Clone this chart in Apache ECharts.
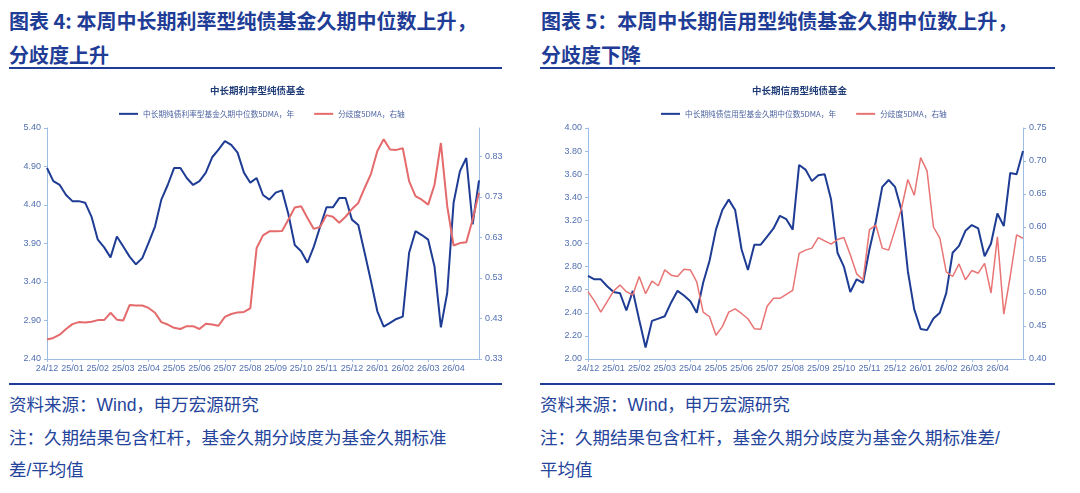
<!DOCTYPE html>
<html>
<head>
<meta charset="utf-8">
<script src="https://cdn.jsdelivr.net/npm/echarts@6/dist/echarts.min.js"></script>
<style>
body { margin: 0; width: 1080px; height: 493px; background: #fff; position: relative; overflow: hidden; font-family: "Noto Sans CJK SC", sans-serif; }
.head { position: absolute; top: 4px; font-size: 20px; font-weight: bold; line-height: 34px; color: #1f3d96; white-space: nowrap; }
.rule { position: absolute; height: 2px; background: #1f3d96; }
.foot { position: absolute; top: 389px; font-size: 17.5px; line-height: 32.5px; color: #24449b; white-space: nowrap;
  font-family: "Liberation Sans", "Noto Sans CJK SC", sans-serif; }
.chart { position: absolute; top: 70px; width: 540px; height: 313px; }
</style>
</head>
<body>
<div class="head" style="left:9px">图表 4: 本周中长期利率型纯债基金久期中位数上升，<br>分歧度上升</div>
<div class="head" style="left:541px">图表 5：本周中长期信用型纯债基金久期中位数上升，<br>分歧度下降</div>
<div class="rule" style="left:9px;width:493px;top:67px"></div>
<div class="rule" style="left:540px;width:515px;top:67px"></div>
<div id="c1" class="chart" style="left:0"></div>
<div id="c2" class="chart" style="left:540px"></div>
<div class="rule" style="left:9px;width:493px;top:383px"></div>
<div class="rule" style="left:540px;width:515px;top:383px"></div>
<div class="foot" style="left:9px">资料来源：Wind，申万宏源研究<br>注：久期结果包含杠杆，基金久期分歧度为基金久期标准<br>差/平均值</div>
<div class="foot" style="left:540px">资料来源：Wind，申万宏源研究<br>注：久期结果包含杠杆，基金久期分歧度为基金久期标准差/<br>平均值</div>
<script>
// sample dates, 4 per month
const dates = [
  '2024-12-01','2024-12-08','2024-12-16','2024-12-23',
  '2025-01-01','2025-01-08','2025-01-16','2025-01-23',
  '2025-02-01','2025-02-08','2025-02-16','2025-02-23',
  '2025-03-01','2025-03-08','2025-03-16','2025-03-23',
  '2025-04-01','2025-04-08','2025-04-16','2025-04-23',
  '2025-05-01','2025-05-08','2025-05-16','2025-05-23',
  '2025-06-01','2025-06-08','2025-06-16','2025-06-23',
  '2025-07-01','2025-07-08','2025-07-16','2025-07-23',
  '2025-08-01','2025-08-08','2025-08-16','2025-08-23',
  '2025-09-01','2025-09-08','2025-09-16','2025-09-23',
  '2025-10-01','2025-10-08','2025-10-16','2025-10-23',
  '2025-11-01','2025-11-08','2025-11-16','2025-11-23',
  '2025-12-01','2025-12-08','2025-12-16','2025-12-23',
  '2026-01-01','2026-01-08','2026-01-16','2026-01-23',
  '2026-02-01','2026-02-08','2026-02-16','2026-02-23',
  '2026-03-01','2026-03-08','2026-03-16','2026-03-23',
  '2026-04-01','2026-04-08','2026-04-16','2026-04-23','2026-04-30'
];

// 中长期利率型
const rateDur = [4.88,4.71,4.66,4.53, 4.45,4.45,4.43,4.25, 3.95,3.85,3.72,3.99, 3.86,3.73,3.63,3.71,
  3.91,4.12,4.47,4.66, 4.88,4.88,4.75,4.66, 4.71,4.82,5.02,5.12, 5.23,5.18,5.08,4.82,
  4.69,4.75,4.53,4.47, 4.56,4.59,4.28,3.88, 3.80,3.65,3.86,4.12, 4.37,4.37,4.49,4.49,
  4.21,4.14,3.78,3.41, 3.02,2.82,2.87,2.92, 2.95,3.78,4.06,4.01, 3.95,3.60,2.81,3.26,
  4.43,4.84,5.01,4.15,4.72];
const rateDisp = [0.378,0.382,0.390,0.404, 0.416,0.421,0.420,0.422, 0.426,0.426,0.444,0.427, 0.425,0.463,0.462,0.462,
  0.456,0.444,0.421,0.415, 0.407,0.404,0.411,0.411, 0.404,0.417,0.415,0.412, 0.434,0.441,0.445,0.446,
  0.455,0.604,0.635,0.645, 0.645,0.646,0.674,0.704, 0.707,0.678,0.651,0.656, 0.685,0.681,0.666,0.681,
  0.700,0.715,0.752,0.787, 0.843,0.872,0.847,0.846, 0.850,0.769,0.732,0.723, 0.711,0.760,0.863,0.707,
  0.610,0.616,0.618,0.674,0.740];

// 中长期信用型
const creditDur = [2.72,2.69,2.69,2.63, 2.58,2.57,2.42,2.59, 2.34,2.10,2.33,2.35, 2.37,2.49,2.59,2.55,
  2.50,2.40,2.66,2.85, 3.12,3.29,3.38,3.29, 2.95,2.77,2.99,2.99, 3.06,3.13,3.24,3.21,
  3.12,3.68,3.64,3.54, 3.59,3.60,3.38,2.92, 2.80,2.58,2.69,2.66, 2.95,3.19,3.49,3.55,
  3.49,3.29,2.76,2.43, 2.26,2.25,2.35,2.40, 2.57,2.92,2.98,3.11, 3.16,3.13,2.89,3.00,
  3.26,3.15,3.61,3.60,3.80];
const creditDisp = [0.502,0.488,0.471,0.487, 0.503,0.512,0.502,0.497, 0.525,0.499,0.518,0.511, 0.535,0.527,0.525,0.536,
  0.535,0.517,0.471,0.464, 0.436,0.449,0.471,0.476, 0.469,0.461,0.446,0.445, 0.480,0.492,0.492,0.498,
  0.504,0.560,0.565,0.568, 0.584,0.579,0.574,0.581, 0.584,0.558,0.529,0.520, 0.596,0.603,0.568,0.565,
  0.596,0.628,0.672,0.648, 0.705,0.685,0.600,0.583, 0.532,0.525,0.544,0.520, 0.534,0.530,0.545,0.500,
  0.585,0.468,0.525,0.588,0.583];

const axisColor = '#9cbde4';
const labelColor = '#5270b0';
const numFont = '"Liberation Sans", Arial, sans-serif';
const isMonthStart = (idx, val) => val.slice(8) === '01';

function makeChart(id, o) {
  const chart = echarts.init(document.getElementById(id));
  const yAx = (ax) => ({
    type: 'value', position: ax.pos, min: ax.min, max: ax.max, interval: ax.step,
    axisLine: { show: true, lineStyle: { color: axisColor } },
    axisTick: { show: true, length: 3, lineStyle: { color: axisColor } },
    splitLine: { show: false },
    axisLabel: { formatter: v => v.toFixed(2), fontSize: 9, color: labelColor, fontFamily: numFont,
      margin: 6, showMaxLabel: ax.showMax }
  });
  chart.setOption({
    animation: false,
    title: { text: o.title, left: o.titleLeft, top: 11,
      textStyle: { fontSize: 9.5, fontWeight: 'bold', color: '#203c78', fontFamily: 'Noto Sans CJK SC' } },
    legend: { left: o.legendLeft, top: 35, icon: 'rect', itemWidth: 19, itemHeight: 2, itemGap: 20,
      textStyle: { fontSize: 7.7, color: '#4d64a0', fontFamily: 'Noto Sans CJK SC' } },
    grid: { left: o.gridLeft, right: o.gridRight, top: 58, bottom: 24 },
    xAxis: {
      type: 'category', data: dates, boundaryGap: false,
      axisLine: { lineStyle: { color: axisColor } },
      axisTick: { interval: isMonthStart, length: 3, lineStyle: { color: axisColor } },
      axisLabel: { interval: isMonthStart, formatter: v => v.slice(2, 4) + '/' + v.slice(5, 7),
        fontSize: 9, color: labelColor, fontFamily: numFont, margin: 5 }
    },
    yAxis: [yAx(o.left), yAx(o.right)],
    series: [
      { name: o.names[0], type: 'line', data: o.dur, showSymbol: false,
        lineStyle: { width: 2, color: '#1e3c94' }, itemStyle: { color: '#1e3c94' } },
      { name: o.names[1], type: 'line', yAxisIndex: 1, data: o.disp, showSymbol: false,
        lineStyle: { width: o.redWidth, color: o.redColor }, itemStyle: { color: o.redColor } }
    ]
  });
  return chart;
}

makeChart('c1', {
  title: '中长期利率型纯债基金', titleLeft: 205, legendLeft: 114,
  gridLeft: 47, gridRight: 61,
  names: ['中长期纯债利率型基金久期中位数5DMA，年', '分歧度5DMA，右轴'],
  left: { pos: 'left', min: 2.4, max: 5.4, step: 0.5, showMax: true },
  right: { pos: 'right', min: 0.33, max: 0.90, step: 0.1, showMax: false },
  dur: rateDur, disp: rateDisp, redWidth: 2, redColor: '#e46a6c'
});

makeChart('c2', {
  title: '中长期信用型纯债基金', titleLeft: 207, legendLeft: 116,
  gridLeft: 48, gridRight: 57,
  names: ['中长期纯债信用型基金久期中位数5DMA，年', '分歧度5DMA，右轴'],
  left: { pos: 'left', min: 2.0, max: 4.0, step: 0.2, showMax: true },
  right: { pos: 'right', min: 0.40, max: 0.75, step: 0.05, showMax: true },
  dur: creditDur, disp: creditDisp, redWidth: 1.5, redColor: '#e87474'
});
</script>
</body>
</html>
